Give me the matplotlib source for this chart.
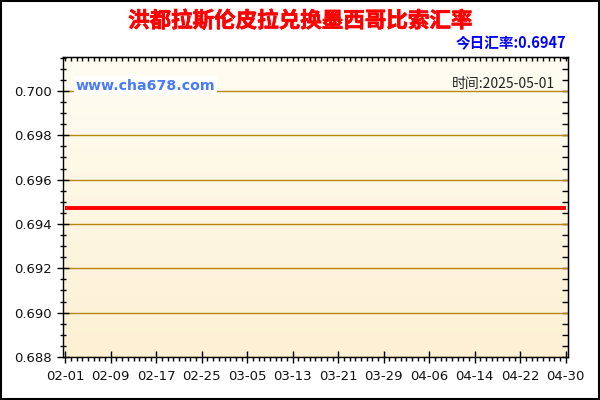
import matplotlib
matplotlib.use("Agg")
import matplotlib.pyplot as plt
import matplotlib.patheffects as pe
import numpy as np
import datetime as dt

plt.rcParams['font.family'] = ['Noto Sans CJK SC', 'DejaVu Sans']

title = "洪都拉斯伦皮拉兑换墨西哥比索汇率"
today_label = "今日汇率:0.6947"
time_label = "时间:2025-05-01"
watermark = "www.cha678.com"

start = dt.date(2025, 2, 1)
n_days = 89  # 02-01 .. 04-30
dates = [start + dt.timedelta(days=i) for i in range(n_days)]
rates = [0.6947] * n_days

yticks = [0.688, 0.690, 0.692, 0.694, 0.696, 0.698, 0.700]
ylim = (0.688, 0.70153)

fig = plt.figure(figsize=(6, 4), dpi=100)
fig.patch.set_facecolor('white')
# outer border
fig.add_artist(plt.Rectangle((0.0015, 0.002), 0.996, 0.995, transform=fig.transFigure,
                             fill=False, edgecolor='black', linewidth=1.5))

ax = fig.add_axes([63/600, 1-357/400, (568-63)/600, (357-57)/400])
x = np.arange(n_days)

# gradient background
grad = np.linspace(0, 1, 256).reshape(-1, 1)
top = np.array([255, 253, 242]) / 255
bot = np.array([253, 240, 212]) / 255
img = top[None, None, :] * (1 - grad[:, :, None]) + bot[None, None, :] * grad[:, :, None]
ax.imshow(img, extent=[0, 1, 0, 1], transform=ax.transAxes, aspect='auto', zorder=0)

ax.set_xlim(-0.4, 88.4)
ax.set_ylim(*ylim)

for yv in yticks:
    ax.axhline(yv, color='#b8860b', linewidth=1, zorder=1)

ax.plot(x, rates, color='#ff0000', linewidth=2.8, zorder=3, solid_capstyle='butt')

xt = list(range(0, n_days, 8))
ax.set_xticks(xt)
ax.set_xticklabels([dates[i].strftime('%m-%d') for i in xt], fontsize=9.5,
                   family=['DejaVu Sans'])
ax.set_xticks(range(0, n_days, 1), minor=True)
ax.set_yticks(yticks)
ax.set_yticklabels([f"{v:.3f}" for v in yticks], fontsize=9.5, family=['DejaVu Sans'])
ax.set_yticks(np.arange(0.688, 0.7015, 0.0005), minor=True)

ax.tick_params(axis='x', which='major', direction='inout', length=8, width=1, pad=5,
               top=False)
ax.tick_params(axis='x', which='minor', direction='out', length=3, width=1)
ax.tick_params(axis='y', which='major', direction='inout', length=8, width=1, pad=4)
ax.tick_params(axis='y', which='minor', direction='inout', length=5, width=1)
ax.tick_params(axis='both', colors='black', labelcolor='#111111')

# secondary ticks on top and right (inward)
axt = ax.secondary_xaxis('top')
axt.set_xticks(range(0, n_days, 1))
axt.tick_params(direction='in', length=3, width=1, labeltop=False)
axt.set_xticklabels([])
axr = ax.secondary_yaxis('right')
axr.set_yticks(np.arange(0.688, 0.7015, 0.0005))
axr.tick_params(direction='in', length=4, width=1)
axr.set_yticklabels([])

for s in ax.spines.values():
    s.set_color('black')
    s.set_linewidth(1)

fig.text(0.5, 0.948, title, ha='center', va='center', color='#ff0000', fontsize=15.5,
         fontweight='bold',
         path_effects=[pe.withStroke(linewidth=0.5, foreground='#ff0000')])
fig.text(0.944, 0.893, today_label, ha='right', va='center', color='#0000ff',
         fontsize=10.5, fontweight='bold')
ax.text(0.025, 0.905, watermark, transform=ax.transAxes, ha='left', va='center',
        color='#4a7bf7', fontsize=10.2, fontweight='bold', family=['DejaVu Sans'],
        bbox=dict(facecolor='white', edgecolor='none', pad=1.5), zorder=4)
ax.text(0.975, 0.91, time_label, transform=ax.transAxes, ha='right', va='center',
        color='#222222', fontsize=10, zorder=4)

fig.savefig('out.png', dpi=100, facecolor='white')
